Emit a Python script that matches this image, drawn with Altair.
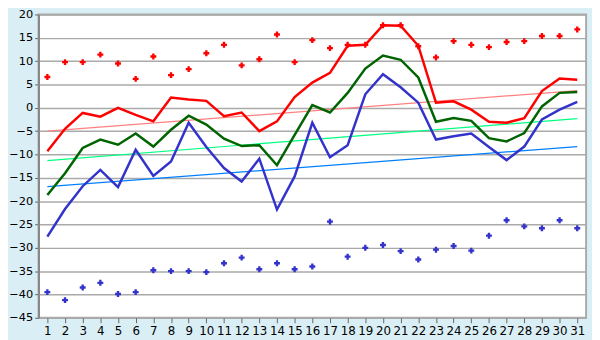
import altair as alt
import pandas as pd

days = list(range(1, 32))

t_max = [-9.3, -4.5, -1.1, -1.9, 0.0, -1.5, -2.9, 2.2, 1.8, 1.5,
         -1.8, -1.0, -5.0, -2.9, 2.3, 5.4, 7.5, 13.3, 13.5, 17.7,
         17.6, 13.3, 1.1, 1.4, -0.4, -3.0, -3.2, -2.2, 3.6, 6.3, 6.0]
t_mean = [-18.7, -14.0, -8.6, -6.8, -7.9, -5.5, -8.3, -4.7, -1.7, -3.6,
          -6.6, -8.2, -8.0, -12.3, -5.8, 0.6, -1.0, 3.2, 8.4, 11.2,
          10.3, 6.5, -3.0, -2.2, -2.8, -6.5, -7.2, -5.4, 0.3, 3.2, 3.4]
t_min = [-27.6, -21.7, -16.8, -13.3, -17.0, -9.0, -14.6, -11.5, -3.2, -8.4,
         -12.9, -15.8, -10.9, -21.8, -14.7, -3.2, -10.6, -8.0, 2.9, 7.2,
         4.4, 1.1, -6.8, -6.1, -5.5, -8.4, -11.2, -8.3, -2.5, -0.4, 1.3]
rec_max = [6.6, 9.8, 9.8, 11.4, 9.5, 6.2, 11.0, 7.0, 8.3, 11.7,
           13.5, 9.1, 10.4, 15.7, 9.8, 14.5, 12.8, 13.5, 13.5, 17.7,
           17.7, 13.2, 10.8, 14.3, 13.5, 13.0, 14.1, 14.3, 15.4, 15.4, 16.8]
rec_min = [-39.5, -41.2, -38.5, -37.5, -39.9, -39.5, -34.8, -35.0, -35.0, -35.2,
           -33.3, -32.1, -34.6, -33.3, -34.6, -34.0, -24.4, -31.9, -30.0, -29.4,
           -30.7, -32.5, -30.4, -29.6, -30.6, -27.4, -24.1, -25.4, -25.8, -24.1, -25.8]

trend_days = [1, 31]
trend_max = [-5.0, 3.7]
trend_mean = [-11.3, -2.3]
trend_min = [-16.9, -8.3]

y_ticks = list(range(-45, 21, 5))

df = pd.DataFrame({"day": days, "tmax": t_max, "tmean": t_mean, "tmin": t_min,
                   "rmax": rec_max, "rmin": rec_min})
tr = pd.DataFrame({"day": trend_days, "max": trend_max, "mean": trend_mean, "min": trend_min})

xs = alt.Scale(domain=[0.5, 31.5], nice=False, zero=False)
ys = alt.Scale(domain=[-45, 20], nice=False, zero=False)
xax = alt.Axis(values=days, grid=False, title=None, labelFontSize=12, labelColor="#000000",
               tickColor="#666666", tickSize=5, domain=False, labelPadding=3,
               labelFont="DejaVu Sans", labelFlush=False)
yax = alt.Axis(values=y_ticks, grid=True, gridColor="#AAAAAA", gridWidth=1.5,
               title=None, labelFontSize=11.5, labelColor="#000000", tickColor="#666666",
               tickSize=4, domainColor="#888888", domainWidth=2, labelPadding=2,
               labelFont="DejaVu Sans")

base = alt.Chart(df)
tbase = alt.Chart(tr)

def xenc():
    return alt.X("day:Q", scale=xs, axis=xax)

def yenc(f):
    return alt.Y(f + ":Q", scale=ys, axis=yax)

layers = [
    tbase.mark_line(color="#FF8080", strokeWidth=1.2).encode(x=xenc(), y=yenc("max")),
    tbase.mark_line(color="#00FF80", strokeWidth=1.2).encode(x=xenc(), y=yenc("mean")),
    tbase.mark_line(color="#0080FF", strokeWidth=1.2).encode(x=xenc(), y=yenc("min")),
    base.mark_line(color="#FF0000", strokeWidth=2.5).encode(x=xenc(), y=yenc("tmax")),
    base.mark_line(color="#006400", strokeWidth=2.5).encode(x=xenc(), y=yenc("tmean")),
    base.mark_line(color="#3333CC", strokeWidth=2.5).encode(x=xenc(), y=yenc("tmin")),
    base.mark_point(shape="cross", filled=True, size=36, color="#FF0000", opacity=1).encode(x=xenc(), y=yenc("rmax")),
    base.mark_point(shape="cross", filled=True, size=36, color="#3333CC", opacity=1).encode(x=xenc(), y=yenc("rmin")),
]

chart = alt.layer(*layers).properties(
    width=556, height=308,
    autosize=alt.AutoSizeParams(type="none"),
    padding={"left": 31, "top": 4, "right": 6, "bottom": 24},
    background="#DAEFF5",
).configure_view(fill="#FFFFFF", stroke="#AAAAAA", strokeWidth=2)

chart.save("out.html", embed_options={"renderer": "svg", "actions": False})
